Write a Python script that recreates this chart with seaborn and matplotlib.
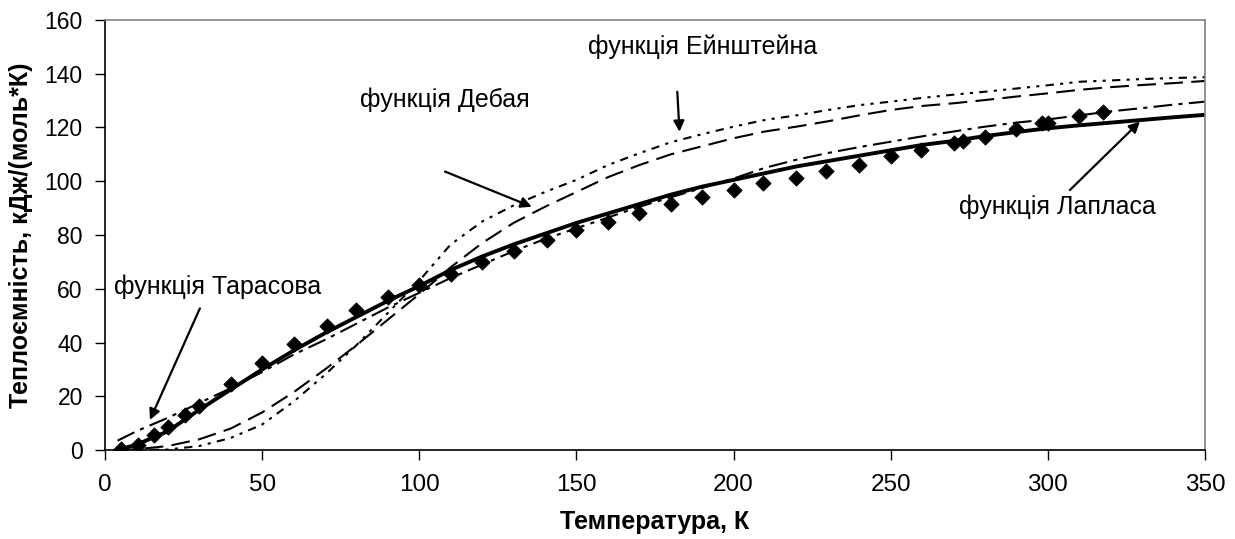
import matplotlib
matplotlib.use('Agg')
import matplotlib.pyplot as plt
import pandas as pd
import seaborn as sns

# Experimental points
exp_t = [5, 10.5, 15.5, 20, 25.5, 30, 40, 50, 60, 70.5, 80, 90, 100, 110, 120, 130, 140.5,
         150, 160, 170, 180, 190, 200, 209.5, 220, 229.5, 240, 250, 259.5, 270, 273,
         280, 290, 298, 300, 310, 317.5]
exp_c = [0.5, 2, 5.5, 8.5, 13, 16.5, 24.5, 32.5, 39.5, 46, 52, 57, 61.5, 65.5, 70, 74.2, 78,
         82, 85, 88.3, 91.4, 94, 96.7, 99.2, 101.1, 103.8, 106, 109.4, 111.6, 114.4, 115.1,
         116.6, 119.3, 121.5, 121.5, 124.3, 125.9]

# Model curves
t_grid = [4, 10, 20, 30, 40, 50, 60, 70, 80, 90, 100, 110, 120, 130, 140, 150, 160, 170, 180,
          190, 200, 210, 220, 230, 240, 250, 260, 270, 280, 290, 300, 310, 320, 330, 340, 350]
laplace = [0, 2, 7, 15, 22.5, 30, 37, 43.5, 49.5, 55.5, 61, 67, 72, 76.5, 80.5, 84.5, 88,
           91.5, 95, 98, 100.5, 103, 105.5, 107.5, 109.5, 111.5, 113.5, 115, 116.8, 118.3,
           119.7, 120.8, 121.8, 122.8, 123.8, 124.7]
tarasov = [3.5, 7, 12, 17.5, 23, 29, 35.5, 41, 47, 53, 58.5, 64, 69, 74, 78.5, 82.5, 86.5,
           90.5, 94, 97.5, 101, 105, 108, 110.5, 112.7, 114.7, 116.7, 118.5, 120.3, 121.8,
           123, 124.5, 126, 127.2, 128.5, 129.6]
debye = [0, 0.3, 1.5, 4, 8, 14, 21.5, 30, 39, 48.5, 58, 68, 77, 84.5, 90.5, 96, 101.5,
         106, 110, 113, 116, 118.5, 120.3, 122.3, 124.5, 126.5, 128, 129, 130.2, 131.5,
         132.7, 134, 135, 135.8, 136.5, 137.3]
einstein = [0, 0, 0.2, 1.5, 4.5, 9.5, 18, 28, 39, 51, 63, 76.5, 85, 91, 96, 100.5, 106,
            110.4, 114.5, 117.5, 120.3, 122.8, 124.5, 126.5, 128.3, 129.6, 131, 132.2,
            133.3, 134.5, 135.7, 137, 137.5, 138, 138.4, 138.7]

df = pd.DataFrame({'T': t_grid, 'laplace': laplace, 'tarasov': tarasov,
                   'debye': debye, 'einstein': einstein})
df_exp = pd.DataFrame({'T': exp_t, 'C': exp_c})

sns.set_style('white')
plt.rcParams['font.family'] = ['Liberation Sans', 'DejaVu Sans']
plt.rcParams['text.color'] = 'black'
plt.rcParams['axes.labelcolor'] = 'black'

fig = plt.figure(figsize=(12.35, 5.39), dpi=100)
ax = fig.add_axes([0.085, 0.165, 0.8907, 0.798])

sns.lineplot(data=df, x='T', y='einstein', ax=ax, color='black', lw=1.5,
             linestyle=(0, (4, 3, 1.5, 3, 1.5, 3)))
sns.lineplot(data=df, x='T', y='debye', ax=ax, color='black', lw=1.5,
             linestyle=(0, (9, 4)))
sns.lineplot(data=df, x='T', y='tarasov', ax=ax, color='black', lw=1.5,
             linestyle=(0, (9, 3, 2, 3)))
sns.lineplot(data=df, x='T', y='laplace', ax=ax, color='black', lw=2.8)
sns.scatterplot(data=df_exp, x='T', y='C', ax=ax, marker='D', color='black',
                s=60, edgecolor='black', zorder=5)

ax.set_xlim(0, 350)
ax.set_ylim(0, 160)
ax.set_xticks(range(0, 351, 50))
ax.set_yticks(range(0, 161, 20))
ax.tick_params(axis='both', direction='out', length=7, width=1,
               colors='black', left=True, bottom=True)
ax.tick_params(axis='x', labelsize=17.5, pad=10)
ax.tick_params(axis='y', labelsize=16.5, pad=9)
for side in ['left', 'bottom']:
    ax.spines[side].set_color('black')
    ax.spines[side].set_linewidth(1.2)
for side in ['top', 'right']:
    ax.spines[side].set_color('#808080')
    ax.spines[side].set_linewidth(1.2)

ax.set_xlabel('Температура, К', fontsize=18, fontweight='bold', labelpad=10, color='black')
ax.set_ylabel('Теплоємність, кДж/(моль*К)', fontsize=18, fontweight='bold', labelpad=8,
              color='black')

# annotation texts and arrows
ax.text(190.3, 150, 'функція Ейнштейна', ha='center', va='center', fontsize=18, color='black')
ax.text(108.3, 130.2, 'функція Дебая', ha='center', va='center', fontsize=18, color='black')
ax.text(35.8, 60.7, 'функція Тарасова', ha='center', va='center', fontsize=18, color='black')
ax.text(303, 90.4, 'функція Лапласа', ha='center', va='center', fontsize=18, color='black')

arrow = dict(arrowstyle='-|>', color='black', lw=1.6, mutation_scale=16,
             shrinkA=0, shrinkB=0)
ax.annotate('', xy=(182.8, 118.4), xytext=(182.1, 133.3), arrowprops=arrow)
ax.annotate('', xy=(135.8, 90.5), xytext=(108.2, 103.6), arrowprops=arrow)
ax.annotate('', xy=(14.3, 11.2), xytext=(30.2, 52.7), arrowprops=arrow)
ax.annotate('', xy=(329.3, 122.2), xytext=(307, 96.7), arrowprops=arrow)

fig.savefig('out.png', dpi=100)
